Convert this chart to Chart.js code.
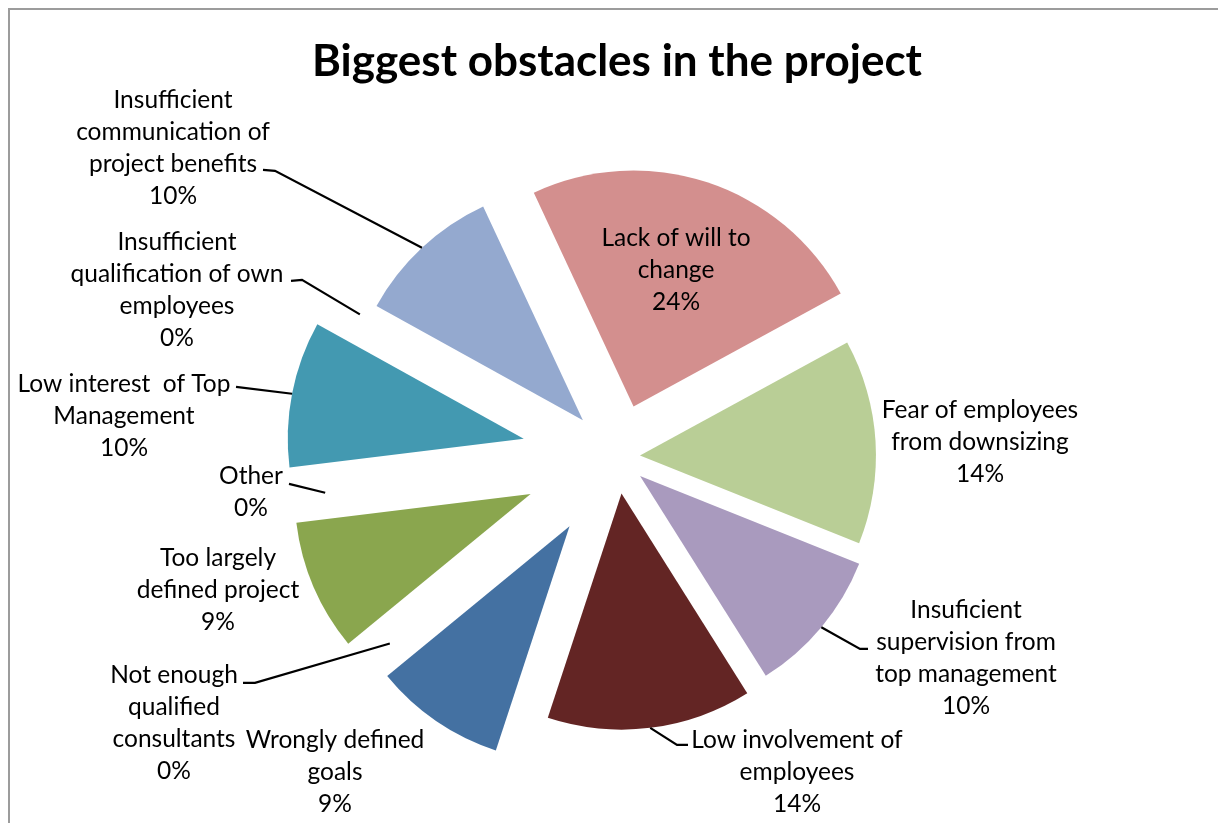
<!DOCTYPE html>
<html>
<head>
<meta charset="utf-8">
<title>Biggest obstacles in the project</title>
<script src="https://cdn.jsdelivr.net/npm/chart.js@4.4.1/dist/chart.umd.min.js"></script>
<style>
  html, body { margin: 0; padding: 0; background: #ffffff; overflow: hidden; }
  #frame { position: absolute; left: 8px; top: 8px; width: 1400px; height: 1000px;
           border: 2px solid #9c9c9c; box-sizing: border-box; }
  #chart { position: absolute; left: 0; top: 0; }
</style>
</head>
<body>
<div id="frame"></div>
<canvas id="chart" width="1218" height="823"></canvas>
<script>
// Survey answers, clockwise from the first slice
const categories = [
  ['Lack of will to', 'change'],
  ['Fear of employees', 'from downsizing'],
  ['Insuficient', 'supervision from', 'top management'],
  ['Low involvement of', 'employees'],
  ['Wrongly defined', 'goals'],
  ['Not enough', 'qualified', 'consultants'],
  ['Too largely', 'defined project'],
  ['Other'],
  ['Low interest  of Top', 'Management'],
  ['Insufficient', 'qualification of own', 'employees'],
  ['Insufficient', 'communication of', 'project benefits']
];
const shares = [24, 14, 10, 14, 9, 0, 9, 0, 10, 0, 10];

// Slice styling
const sliceColors = ['#D38F8E', '#B9CE96', '#A99ABE', '#632524', '#4471A2', '#4F81BD',
                     '#8AA64E', '#F79646', '#4399B1', '#8064A2', '#94A9CF'];
const explode = [53, 23, 30, 37, 84, 58, 94, 58, 95, 58, 50];

// Label blocks: first-line centre relative to the pie centre, plus optional leader points
const labelPlacement = [
  { at: [59, -219] },
  { at: [363, -47] },
  { at: [349, 153], leader: [[251, 192], [243, 192]] },
  { at: [180, 283], leader: [[71, 288], [60, 288]] },
  { at: [-282, 283] },
  { at: [-443, 218], leader: [[-374, 226], [-362, 226]] },
  { at: [-399, 101] },
  { at: [-366, 19], leader: [[-328, 27]] },
  { at: [-493, -73], leader: [[-381, -70]] },
  { at: [-440, -215], leader: [[-326, -176], [-315, -177]] },
  { at: [-444, -357], leader: [[-354, -287], [-342, -286]] }
];

// A pie slice that is pushed out along its bisector by `offset` pixels, keeping its radius
class ExplodedArc extends Chart.ArcElement {
  draw(ctx) {
    const { x, y, startAngle, endAngle, outerRadius } =
      this.getProps(['x', 'y', 'startAngle', 'endAngle', 'outerRadius']);
    if (endAngle - startAngle <= 0) return;
    const mid = (startAngle + endAngle) / 2;
    const shift = this.options.offset || 0;
    const cx = x + Math.cos(mid) * shift;
    const cy = y + Math.sin(mid) * shift;
    ctx.save();
    ctx.fillStyle = this.options.backgroundColor;
    ctx.beginPath();
    ctx.moveTo(cx, cy);
    ctx.arc(cx, cy, outerRadius, startAngle, endAngle);
    ctx.closePath();
    ctx.fill();
    ctx.restore();
  }
}
ExplodedArc.id = 'explodedArc';

class ExplodedPieController extends Chart.PieController {}
ExplodedPieController.id = 'explodedPie';
ExplodedPieController.defaults = { dataElementType: 'explodedArc' };

Chart.register(ExplodedArc, ExplodedPieController);

const LABEL_FONT = '24.5px Lato';
const LINE_GAP = 32;

const sliceLabels = {
  id: 'sliceLabels',
  afterDatasetsDraw(chart) {
    const ctx = chart.ctx;
    const meta = chart.getDatasetMeta(0);
    ctx.save();
    ctx.font = LABEL_FONT;
    ctx.fillStyle = '#000000';
    ctx.strokeStyle = '#000000';
    ctx.lineWidth = 2.2;
    ctx.textAlign = 'center';
    ctx.textBaseline = 'middle';
    meta.data.forEach((arc, i) => {
      const place = labelPlacement[i];
      const cx = arc.x, cy = arc.y;
      const lines = [...categories[i], shares[i] + '%'];
      lines.forEach((t, k) => {
        ctx.fillText(t, cx + place.at[0], cy + place.at[1] + k * LINE_GAP);
      });
      if (place.leader) {
        const mid = (arc.startAngle + arc.endAngle) / 2;
        const reach = arc.outerRadius + (arc.options.offset || 0);
        ctx.beginPath();
        place.leader.forEach((p, k) => {
          if (k === 0) ctx.moveTo(cx + p[0], cy + p[1]);
          else ctx.lineTo(cx + p[0], cy + p[1]);
        });
        ctx.lineTo(cx + Math.cos(mid) * reach, cy + Math.sin(mid) * reach);
        ctx.stroke();
      }
    });
    ctx.restore();
  }
};

new Chart(document.getElementById('chart'), {
  type: 'explodedPie',
  data: {
    labels: categories,
    datasets: [{
      data: shares,
      backgroundColor: sliceColors,
      offset: explode,
      borderWidth: 0,
      radius: 236
    }]
  },
  options: {
    responsive: false,
    animation: false,
    events: [],
    rotation: -25,
    layout: { padding: { left: 16, right: 0, top: 0, bottom: 4 } },
    plugins: {
      legend: { display: false },
      tooltip: { enabled: false },
      title: {
        display: true,
        text: 'Biggest obstacles in the project',
        color: '#000000',
        font: { family: 'Lato', size: 44, weight: 'bold', lineHeight: 1.2 },
        padding: { top: 35, bottom: 7 }
      }
    }
  },
  plugins: [sliceLabels]
});
</script>
</body>
</html>
